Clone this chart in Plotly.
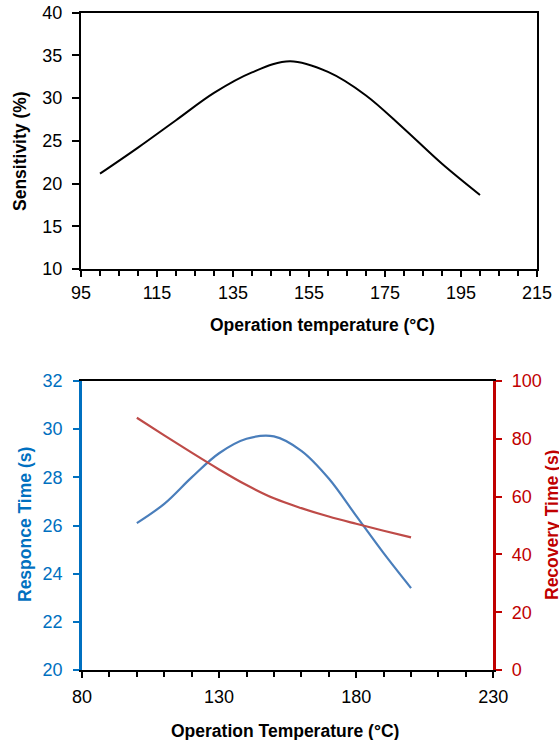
import plotly.graph_objects as go

# ---- data ----
temp_top = [100, 110, 120, 130, 140, 150, 160, 170, 180, 190, 200]
sensitivity = [21.15, 24.2, 27.4, 30.6, 33.0, 34.3, 33.05, 30.3, 26.4, 22.3, 18.65]

temp_bot = [100, 110, 120, 130, 140, 150, 160, 170, 180, 190, 200]
response_time = [26.1, 26.9, 28.0, 29.0, 29.6, 29.7, 29.1, 27.95, 26.4, 24.85, 23.4]
recovery_time = [87.3, 81.2, 75.2, 69.4, 64.0, 59.4, 56.0, 53.1, 50.6, 48.2, 45.9]

W, H = 559, 740
def px(x):
    return x / W
def py(y):
    return 1 - y / H

TICKFONT = "Liberation Sans, Arial"
TITLEFONT = "Liberation Sans, Arial"
BLUE_AX = "#0070C0"
RED_AX = "#C00000"
BLUE_LN = "#4A7EBB"
RED_LN = "#BE4B48"
TS = 18
SMOOTH = 1.0

fig = go.Figure()
fig.add_trace(go.Scatter(x=temp_top, y=sensitivity, mode="lines",
                         line=dict(color="black", width=2, shape="spline", smoothing=SMOOTH),
                         xaxis="x", yaxis="y", showlegend=False))
fig.add_trace(go.Scatter(x=temp_bot, y=response_time, mode="lines",
                         line=dict(color=BLUE_LN, width=2.2, shape="spline", smoothing=SMOOTH),
                         xaxis="x2", yaxis="y2", showlegend=False))
fig.add_trace(go.Scatter(x=temp_bot, y=recovery_time, mode="lines",
                         line=dict(color=RED_LN, width=2.2, shape="spline", smoothing=SMOOTH),
                         xaxis="x2", yaxis="y3", showlegend=False))

fig.update_layout(
    width=W, height=H,
    margin=dict(l=0, r=0, t=0, b=0, autoexpand=False),
    paper_bgcolor="white", plot_bgcolor="white",
    xaxis=dict(domain=[px(81), px(537)], anchor="y", range=[95, 215], automargin=False,
               tickmode="linear", tick0=95, dtick=20,
               ticks="outside", ticklen=6, tickwidth=1.5, tickcolor="black",
               minor=dict(tickmode="linear", tick0=95, dtick=5, ticks="outside",
                          ticklen=5, tickwidth=1.5, tickcolor="black"),
               showline=True, linecolor="black", linewidth=2, mirror=True,
               showgrid=False, zeroline=False,
               tickfont=dict(family=TICKFONT, size=TS, color="black")),
    yaxis=dict(domain=[py(269), py(12.5)], anchor="x", range=[10, 40], automargin=False,
               tickmode="linear", tick0=10, dtick=5, ticklabelstandoff=6,
               ticks="outside", ticklen=7, tickwidth=1.5, tickcolor="black",
               showline=True, linecolor="black", linewidth=2, mirror=True,
               showgrid=False, zeroline=False,
               tickfont=dict(family=TICKFONT, size=TS, color="black")),
    xaxis2=dict(domain=[px(82), px(493.3)], anchor="y2", range=[80, 230], automargin=False,
                tickmode="linear", tick0=80, dtick=50, ticklabelstandoff=3,
                ticks="outside", ticklen=6, tickwidth=1.5, tickcolor="black",
                minor=dict(tickmode="linear", tick0=80, dtick=10, ticks="outside",
                           ticklen=5, tickwidth=1.5, tickcolor="black"),
                showline=True, linecolor="black", linewidth=2, mirror=True,
                showgrid=False, zeroline=False,
                tickfont=dict(family=TICKFONT, size=TS, color="black")),
    yaxis2=dict(domain=[py(670), py(381)], anchor="x2", range=[20, 32], automargin=False,
                tickmode="linear", tick0=20, dtick=2, ticklabelstandoff=7,
                ticks="outside", ticklen=6, tickwidth=1.5, tickcolor=BLUE_AX,
                showline=True, linecolor=BLUE_AX, linewidth=2.5,
                showgrid=False, zeroline=False,
                tickfont=dict(family=TICKFONT, size=TS, color=BLUE_AX)),
    yaxis3=dict(domain=[py(670), py(381)], anchor="x2", overlaying="y2", side="right",
                range=[0, 100], automargin=False, tickmode="linear", tick0=0, dtick=20,
                ticklabelstandoff=6,
                ticks="outside", ticklen=6, tickwidth=1.5, tickcolor=RED_AX,
                showline=True, linecolor=RED_AX, linewidth=2.5,
                showgrid=False, zeroline=False,
                tickfont=dict(family=TICKFONT, size=TS, color=RED_AX)),
)

ann = [
    dict(text="<b>Operation temperature (°C)</b>", x=px(322), y=py(325), color="black", angle=0),
    dict(text="<b>Sensitivity (%)</b>", x=px(20), y=py(151), color="black", angle=-90),
    dict(text="<b>Operation Temperature (°C)</b>", x=px(285), y=py(731), color="black", angle=0),
    dict(text="<b>Responce Time (s)</b>", x=px(25), y=py(525), color=BLUE_AX, angle=-90),
    dict(text="<b>Recovery Time (s)</b>", x=px(552), y=py(525), color=RED_AX, angle=-90),
]
for a in ann:
    fig.add_annotation(text=a["text"], x=a["x"], y=a["y"], xref="paper", yref="paper",
                       xanchor="center", yanchor="middle", showarrow=False,
                       textangle=a["angle"],
                       font=dict(family=TITLEFONT, size=17.5, color=a["color"]))

fig.write_html("out.html")
